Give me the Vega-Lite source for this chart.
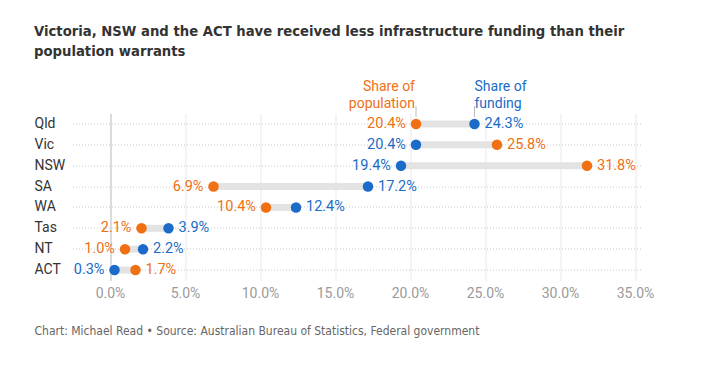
{
  "$schema": "https://vega.github.io/schema/vega-lite/v6.json",
  "width": 570,
  "height": 167,
  "autosize": {"type": "none"},
  "padding": {"left": 72.5, "top": 113.5, "right": 74.5, "bottom": 89.5},
  "background": "white",
  "config": {
    "view": {"stroke": null},
    "font": "Roboto"
  },
  "title": {
    "text": ["Victoria, NSW and the ACT have received less infrastructure funding than their", "population warrants"],
    "anchor": "start",
    "frame": "group",
    "dx": -38.5,
    "dy": 17,
    "offset": 38,
    "font": "DejaVu Sans Condensed",
    "fontSize": 14.7,
    "fontWeight": "bold",
    "color": "#333333",
    "lineHeight": 20
  },
  "data": {
    "values": [
      {"state": "Qld", "population": 0.204, "funding": 0.243},
      {"state": "Vic", "population": 0.258, "funding": 0.204},
      {"state": "NSW", "population": 0.318, "funding": 0.194},
      {"state": "SA", "population": 0.069, "funding": 0.172},
      {"state": "WA", "population": 0.104, "funding": 0.124},
      {"state": "Tas", "population": 0.021, "funding": 0.039},
      {"state": "NT", "population": 0.010, "funding": 0.022},
      {"state": "ACT", "population": 0.017, "funding": 0.003}
    ]
  },
  "layer": [
    {
      "mark": {"type": "rule", "strokeWidth": 7, "color": "#e3e3e3"},
      "encoding": {
        "x": {
          "field": "population",
          "type": "quantitative",
          "scale": {"domain": [-0.025, 0.355], "nice": false, "zero": false},
          "axis": {
            "format": ".1%",
            "values": [0, 0.05, 0.1, 0.15, 0.2, 0.25, 0.3, 0.35],
            "domain": false,
            "ticks": false,
            "labelColor": "#9a9a9a",
            "labelFontSize": 14,
            "labelPadding": 6,
            "gridColor": {"condition": {"test": "datum.value === 0", "value": "#cfcfcf"}, "value": "#e9e9e9"},
            "gridWidth": {"condition": {"test": "datum.value === 0", "value": 1.5}, "value": 1},
            "title": "Chart: Michael Read • Source: Australian Bureau of Statistics, Federal government",
            "titleFont": "DejaVu Sans Condensed",
            "titleFontSize": 12,
            "titleFontWeight": "normal",
            "titleColor": "#666666",
            "titleAnchor": "start",
            "titleAlign": "left",
            "titleBaseline": "middle",
            "titleX": -38.5,
            "titleY": 50
          }
        },
        "x2": {"field": "funding"},
        "y": {
          "field": "state",
          "type": "nominal",
          "sort": ["Qld", "Vic", "NSW", "SA", "WA", "Tas", "NT", "ACT"],
          "scale": {"paddingInner": 0, "paddingOuter": 0},
          "axis": {
            "title": null,
            "domain": false,
            "ticks": false,
            "labelAlign": "left",
            "labelPadding": 38.5,
            "labelFontSize": 14,
            "labelColor": "#333333",
            "grid": true,
            "bandPosition": 0.5,
            "gridColor": "#c8c8c8",
            "gridDash": [1, 2]
          }
        }
      }
    },
    {
      "transform": [{"fold": ["population", "funding"], "as": ["series", "value"]}],
      "mark": {"type": "circle", "size": 110, "opacity": 1},
      "encoding": {
        "x": {"field": "value", "type": "quantitative"},
        "y": {"field": "state", "type": "nominal", "sort": ["Qld", "Vic", "NSW", "SA", "WA", "Tas", "NT", "ACT"]},
        "color": {
          "field": "series",
          "type": "nominal",
          "scale": {"domain": ["population", "funding"], "range": ["#f07013", "#1a6cc8"]},
          "legend": null
        }
      }
    },
    {
      "transform": [
        {"fold": ["population", "funding"], "as": ["series", "value"]},
        {"joinaggregate": [{"op": "min", "field": "value", "as": "minv"}], "groupby": ["state"]},
        {"filter": "datum.value === datum.minv"}
      ],
      "mark": {"type": "text", "align": "right", "baseline": "middle", "dx": -10, "fontSize": 14.5},
      "encoding": {
        "x": {"field": "value", "type": "quantitative"},
        "y": {"field": "state", "type": "nominal", "sort": ["Qld", "Vic", "NSW", "SA", "WA", "Tas", "NT", "ACT"]},
        "text": {"field": "value", "type": "quantitative", "format": ".1%"},
        "color": {"field": "series", "type": "nominal", "legend": null}
      }
    },
    {
      "transform": [
        {"fold": ["population", "funding"], "as": ["series", "value"]},
        {"joinaggregate": [{"op": "min", "field": "value", "as": "minv"}], "groupby": ["state"]},
        {"filter": "datum.value > datum.minv"}
      ],
      "mark": {"type": "text", "align": "left", "baseline": "middle", "dx": 10, "fontSize": 14.5},
      "encoding": {
        "x": {"field": "value", "type": "quantitative"},
        "y": {"field": "state", "type": "nominal", "sort": ["Qld", "Vic", "NSW", "SA", "WA", "Tas", "NT", "ACT"]},
        "text": {"field": "value", "type": "quantitative", "format": ".1%"},
        "color": {"field": "series", "type": "nominal", "legend": null}
      }
    },
    {
      "transform": [
        {"filter": "datum.state === 'Qld'"},
        {"fold": ["population", "funding"], "as": ["series", "value"]}
      ],
      "mark": {"type": "tick", "color": "#a0a0a0", "thickness": 1, "size": 11, "yOffset": -12.5},
      "encoding": {
        "x": {"field": "value", "type": "quantitative"},
        "y": {"field": "state", "type": "nominal", "sort": ["Qld", "Vic", "NSW", "SA", "WA", "Tas", "NT", "ACT"]}
      }
    },
    {
      "transform": [{"filter": "datum.state === 'Qld'"}],
      "mark": {"type": "text", "text": ["Share of", "population"], "align": "right", "baseline": "alphabetic", "dx": -1, "dy": -33, "fontSize": 14, "lineHeight": 17, "color": "#f07013"},
      "encoding": {
        "x": {"field": "population", "type": "quantitative"},
        "y": {"field": "state", "type": "nominal", "sort": ["Qld", "Vic", "NSW", "SA", "WA", "Tas", "NT", "ACT"]}
      }
    },
    {
      "transform": [{"filter": "datum.state === 'Qld'"}],
      "mark": {"type": "text", "text": ["Share of", "funding"], "align": "left", "baseline": "alphabetic", "dx": 0, "dy": -33, "fontSize": 14, "lineHeight": 17, "color": "#1a6cc8"},
      "encoding": {
        "x": {"field": "funding", "type": "quantitative"},
        "y": {"field": "state", "type": "nominal", "sort": ["Qld", "Vic", "NSW", "SA", "WA", "Tas", "NT", "ACT"]}
      }
    }
  ]
}
